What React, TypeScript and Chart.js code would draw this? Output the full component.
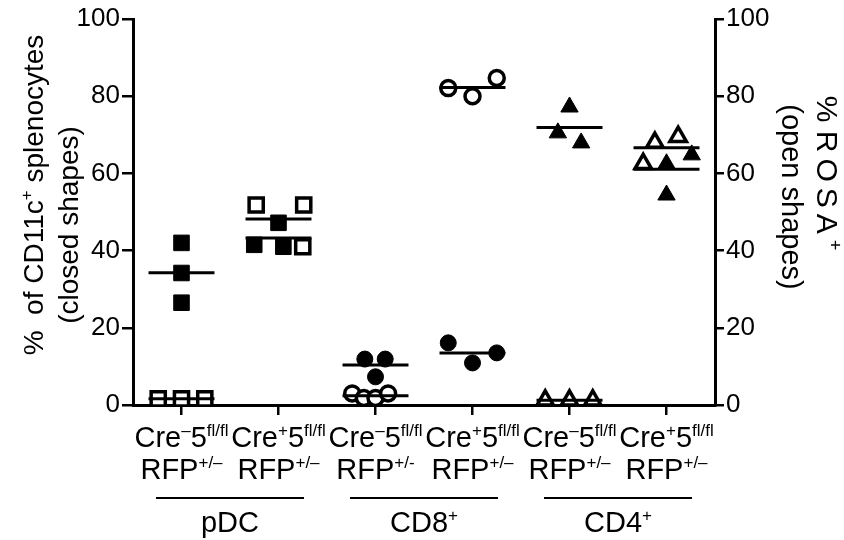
import React, { useEffect, useRef } from 'react';
import { Chart, registerables } from 'chart.js';

Chart.register(...registerables);

// ---------- data ----------
const CRE_SUP = ['–', '+', '–', '+', '–', '+'];
const RFP_SUP = ['+/–', '+/–', '+/-', '+/–', '+/–', '+/–'];
const GROUP_NAMES = ['pDC', 'CD8', 'CD4'];
const GROUP_SUP = ['', '+', '+'];
const Y_TICKS_MAX = 100;
const Y_TICK_STEP = 20;

// closed shapes (% of CD11c+ splenocytes, left axis)
const CLOSED_VALUES: number[][] = [
  [42, 34.2, 26.5],
  [47.2, 41.5, 41],
  [11.9, 11.9, 7.3],
  [16.1, 10.9, 13.5],
  [77.2, 70.5, 67.9],
  [62.5, 62.5, 64.8, 54.4],
];
const CLOSED_JITTER: number[][] = [
  [0, 0, 0],
  [0, -0.25, 0.05],
  [-0.11, 0.1, 0],
  [-0.25, 0, 0.25],
  [0, -0.12, 0.12],
  [-0.24, 0, 0.26, 0],
];

// open shapes (% ROSA+, right axis)
const OPEN_VALUES: number[][] = [
  [1.6, 1.6, 1.6],
  [51.8, 51.8, 41],
  [3, 1.8, 1.8, 3],
  [82.1, 80, 84.7],
  [1.2, 1.2, 1.2],
  [68, 69.5, 62.5],
];
const OPEN_JITTER: number[][] = [
  [-0.24, 0, 0.24],
  [-0.23, 0.26, 0.25],
  [-0.24, -0.12, 0, 0.13],
  [-0.25, 0, 0.25],
  [-0.25, 0, 0.24],
  [-0.12, 0.12, -0.24],
];
const SHAPES = ['rect', 'rect', 'circle', 'circle', 'triangle', 'triangle'];

const FONT = "'Liberation Sans', Arial, sans-serif";
const mean = (a: number[]) => a.reduce((s, v) => s + v, 0) / a.length;

type Seg = { t: string; sup?: boolean; ls?: number };

function richWidth(ctx: CanvasRenderingContext2D, segs: Seg[], size: number) {
  let w = 0;
  for (const s of segs) {
    ctx.font = `${s.sup ? Math.round(size * 0.6) : size}px ${FONT}`;
    (ctx as any).letterSpacing = `${s.ls || 0}px`;
    w += ctx.measureText(s.t).width;
  }
  (ctx as any).letterSpacing = '0px';
  return w;
}

function drawRich(ctx: CanvasRenderingContext2D, segs: Seg[], cx: number, y: number, size: number) {
  const w = richWidth(ctx, segs, size);
  let x = cx - w / 2;
  ctx.textAlign = 'left';
  ctx.textBaseline = 'alphabetic';
  for (const s of segs) {
    ctx.font = `${s.sup ? Math.round(size * 0.6) : size}px ${FONT}`;
    (ctx as any).letterSpacing = `${s.ls || 0}px`;
    ctx.fillText(s.t, x, s.sup ? y - size * 0.38 : y);
    x += ctx.measureText(s.t).width;
  }
  (ctx as any).letterSpacing = '0px';
}

const labelsPlugin = {
  id: 'labelsPlugin',
  afterDraw(chart: any) {
    const ctx: CanvasRenderingContext2D = chart.ctx;
    const xs = chart.scales.x;
    ctx.save();
    ctx.fillStyle = '#000';
    ctx.strokeStyle = '#000';
    const size = 29;
    for (let i = 0; i < CRE_SUP.length; i++) {
      const cx = xs.getPixelForValue(i);
      drawRich(ctx, [{ t: 'Cre' }, { t: CRE_SUP[i], sup: true }, { t: '5' }, { t: 'fl/fl', sup: true }], cx, 447, size);
      drawRich(ctx, [{ t: 'RFP' }, { t: RFP_SUP[i], sup: true }], cx, 479, size);
    }
    for (let g = 0; g < GROUP_NAMES.length; g++) {
      const a = xs.getPixelForValue(g * 2);
      const b = xs.getPixelForValue(g * 2 + 1);
      const mid = (a + b) / 2;
      ctx.lineWidth = 2;
      ctx.beginPath();
      ctx.moveTo(mid - 74, 498);
      ctx.lineTo(mid + 74, 498);
      ctx.stroke();
      const segs: Seg[] = [{ t: GROUP_NAMES[g] }];
      if (GROUP_SUP[g]) segs.push({ t: GROUP_SUP[g], sup: true });
      drawRich(ctx, segs, mid, 532, size);
    }
    // left title
    const tsize = 28;
    ctx.save();
    ctx.translate(33, 195);
    ctx.rotate(-Math.PI / 2);
    drawRich(ctx, [{ t: '%  of CD11c' }, { t: '+', sup: true }, { t: ' splenocytes' }], 0, tsize * 0.35, tsize);
    ctx.restore();
    ctx.save();
    ctx.translate(68, 225);
    ctx.rotate(-Math.PI / 2);
    drawRich(ctx, [{ t: '(closed shapes)' }], 0, tsize * 0.35, tsize);
    ctx.restore();
    // right title
    ctx.save();
    ctx.translate(827, 173);
    ctx.rotate(Math.PI / 2);
    drawRich(ctx, [{ t: '% ' }, { t: 'ROSA', ls: 6 }, { t: '+', sup: true }], 0, tsize * 0.35, 30);
    ctx.restore();
    ctx.save();
    ctx.translate(792, 197);
    ctx.rotate(Math.PI / 2);
    drawRich(ctx, [{ t: '(open shapes)' }], 0, tsize * 0.35, 29);
    ctx.restore();
    ctx.restore();
  },
};

function pointStyleFor(shape: string, open: boolean) {
  if (shape === 'rect') return open ? { r: 10, bw: 3.5 } : { r: 11, bw: 1 };
  if (shape === 'circle') return open ? { r: 7.5, bw: 3.5 } : { r: 8, bw: 1 };
  return open ? { r: 9.5, bw: 3.5 } : { r: 10, bw: 1 };
}

export default function App() {
  const ref = useRef<HTMLCanvasElement>(null);
  useEffect(() => {
    if (!ref.current) return;
    const datasets: any[] = [];
    for (let i = 0; i < CLOSED_VALUES.length; i++) {
      const half = 0.34;
      datasets.push({
        type: 'line', order: 0, yAxisID: 'y',
        data: [{ x: i - half, y: mean(CLOSED_VALUES[i]) }, { x: i + half, y: mean(CLOSED_VALUES[i]) }],
        borderColor: '#000', borderWidth: 3, pointRadius: 0, fill: false,
      });
      datasets.push({
        type: 'line', order: 0, yAxisID: 'y1',
        data: [{ x: i - half, y: mean(OPEN_VALUES[i]) }, { x: i + half, y: mean(OPEN_VALUES[i]) }],
        borderColor: '#000', borderWidth: 3, pointRadius: 0, fill: false,
      });
      const so = pointStyleFor(SHAPES[i], true);
      datasets.push({
        type: 'scatter', order: 1, yAxisID: 'y1',
        data: OPEN_VALUES[i].map((v, k) => ({ x: i + OPEN_JITTER[i][k], y: v })),
        pointStyle: SHAPES[i], pointRadius: so.r, pointBorderWidth: so.bw,
        pointBackgroundColor: '#fff', pointBorderColor: '#000',
      });
      const sc = pointStyleFor(SHAPES[i], false);
      datasets.push({
        type: 'scatter', order: 2, yAxisID: 'y',
        data: CLOSED_VALUES[i].map((v, k) => ({ x: i + CLOSED_JITTER[i][k], y: v })),
        pointStyle: SHAPES[i], pointRadius: sc.r, pointBorderWidth: sc.bw,
        pointBackgroundColor: '#000', pointBorderColor: '#000',
      });
    }
    const yCommon = (tickLength: number) => ({
      min: 0, max: Y_TICKS_MAX,
      ticks: { stepSize: Y_TICK_STEP, color: '#000', font: { family: FONT, size: 26 }, padding: 2 },
      grid: { drawOnChartArea: false, drawTicks: true, tickLength, color: '#000', lineWidth: 2.5 },
      border: { display: true, color: '#000', width: 3 },
    });
    const chart = new Chart(ref.current, {
      type: 'scatter',
      data: { datasets },
      plugins: [labelsPlugin],
      options: {
        responsive: false,
        animation: false,
        layout: { padding: { top: 19, left: 0, right: 0, bottom: 0 } },
        plugins: { legend: { display: false }, tooltip: { enabled: false } },
        scales: {
          x: {
            type: 'linear', min: -0.5, max: 5.5,
            afterBuildTicks: (s: any) => { s.ticks = CRE_SUP.map((_, i) => ({ value: i })); },
            afterFit: (s: any) => { s.height = 135; },
            ticks: { display: false },
            grid: { drawOnChartArea: false, drawTicks: true, tickLength: 10, color: '#000', lineWidth: 2.5 },
            border: { display: true, color: '#000', width: 3 },
          },
          y: { ...yCommon(11), position: 'left', afterFit: (s: any) => { s.width = 133; } },
          y1: { ...yCommon(9), position: 'right', afterFit: (s: any) => { s.width = 129; } },
        },
      } as any,
    });
    return () => chart.destroy();
  }, []);
  return (
    <div style={{ position: 'fixed', left: 0, top: 0, background: '#fff' }}>
      <canvas ref={ref} width={844} height={540} style={{ display: 'block' }} />
    </div>
  );
}
